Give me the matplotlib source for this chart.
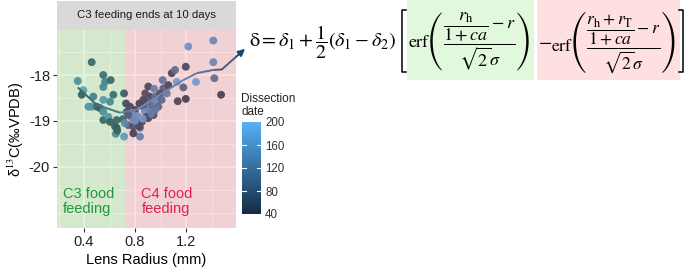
import numpy as np
import matplotlib
matplotlib.use("Agg")
import matplotlib.pyplot as plt
from matplotlib.colors import LinearSegmentedColormap, Normalize
from matplotlib.collections import LineCollection
from matplotlib.patches import Rectangle
from matplotlib.lines import Line2D

plt.rcParams['font.family'] = ['Liberation Sans', 'DejaVu Sans']
plt.rcParams['mathtext.fontset'] = 'stix'
plt.rcParams['axes.unicode_minus'] = False

# -----------------------------
# Data
# -----------------------------
radius = [0.351, 0.395, 0.382, 0.460, 0.473, 0.460, 0.500, 0.525, 0.551, 0.565,
          0.551, 0.609, 0.630, 0.604, 0.551, 0.551, 0.591, 0.604, 0.656, 0.643,
          0.656, 0.649, 0.714, 0.714, 0.729, 0.735, 0.704, 0.761, 0.747, 0.774,
          0.800, 0.818, 0.787, 0.839, 0.853, 0.834, 0.865, 0.904, 0.918, 0.904,
          0.878, 0.918, 0.892, 0.944, 0.931, 0.957, 0.970, 0.983, 0.957, 1.017,
          1.022, 0.996, 1.049, 1.009, 1.061, 1.088, 1.114, 1.127, 1.179, 1.135,
          1.198, 1.198, 1.218, 1.278, 1.414, 1.414, 1.422, 1.475, 0.774, 0.834,
          0.865, 0.904, 0.839, 0.787, 0.747, 0.661, 0.434, 0.551, 0.800, 0.880,
          0.950, 0.720, 0.930, 0.860]
d13c = [-18.13, -18.33, -18.43, -17.72, -18.47, -18.69, -18.69, -18.72, -18.00, -18.15,
        -18.26, -18.11, -18.43, -18.58, -18.80, -18.98, -18.91, -19.02, -18.98, -19.12,
        -19.15, -19.28, -19.34, -18.40, -18.62, -18.80, -18.96, -18.69, -19.09, -18.93,
        -18.76, -18.89, -19.12, -19.15, -19.02, -18.62, -18.69, -18.25, -18.47, -18.58,
        -18.80, -18.74, -18.91, -18.87, -18.65, -18.47, -18.58, -18.69, -18.76, -18.11,
        -18.29, -18.40, -18.40, -18.54, -18.22, -17.96, -17.89, -18.15, -18.27, -18.57,
        -18.52, -17.82, -17.38, -18.15, -17.25, -17.72, -18.07, -18.43, -18.82, -19.12,
        -18.54, -18.94, -19.34, -19.27, -18.87, -19.21, -18.69, -18.54, -19.00, -18.40,
        -18.30, -19.05, -18.85, -18.95]
dissection = [130, 160, 60, 70, 110, 150, 70, 60, 80, 110,
              120, 70, 80, 120, 130, 70, 140, 60, 70, 60,
              60, 130, 160, 60, 50, 60, 70, 50, 90, 150,
              50, 160, 60, 120, 50, 40, 60, 50, 50, 90,
              160, 140, 50, 40, 110, 110, 150, 100, 120, 120,
              90, 60, 130, 100, 50, 50, 110, 180, 90, 45,
              40, 50, 170, 180, 150, 150, 110, 40, 160, 50,
              50, 60, 140, 40, 80, 60, 140, 150, 150, 60,
              140, 140, 130, 170]

# smoothed trend line, arrow tip separate
trend_x = [0.351, 0.50, 0.682, 0.813, 0.996, 1.179, 1.284, 1.414, 1.48]
trend_y = [-18.27, -18.65, -18.82, -18.76, -18.43, -18.11, -17.96, -17.89, -17.88]
arrow_tip = (1.663, -17.43)

c3_end = 0.72
date_ticks = [40, 80, 120, 160, 200]

ggcmap = LinearSegmentedColormap.from_list("gg", ["#132B43", "#56B1F7"])
norm = Normalize(40, 200)

# -----------------------------
# Figure
# -----------------------------
W, H = 685, 276
fig = plt.figure(figsize=(W / 100, H / 100), dpi=100)

def fx(px):
    return px / W

def fy(py):
    return 1 - py / H

ax = fig.add_axes([fx(57), fy(228), fx(236) - fx(57), fy(30) - fy(228)])
ax.set_facecolor("#EBEBEB")
ax.set_xlim(0.188, 1.592)
ax.set_ylim(-21.33, -17.02)

ax.set_xticks([0.4, 0.8, 1.2])
ax.set_xticks([0.2, 0.6, 1.0, 1.4], minor=True)
ax.set_yticks([-20, -19, -18])
ax.set_yticks([-21, -20.5, -19.5, -18.5, -17.5], minor=True)
ax.set_axisbelow(True)
ax.grid(which="major", color="white", lw=1.1)
ax.grid(which="minor", color="white", lw=0.55)
for s in ax.spines.values():
    s.set_visible(False)
ax.tick_params(which="major", length=3, color="#333333", labelsize=10.5,
               labelcolor="#222222", pad=2)
ax.tick_params(which="minor", length=0)

ax.scatter(radius, d13c, c=dissection, cmap=ggcmap, norm=norm, s=32,
           linewidths=0, alpha=0.95, zorder=3)

# trend line with a colour gradient
pts = np.column_stack([trend_x, trend_y])
segs = np.stack([pts[:-1], pts[1:]], axis=1)
seg_vals = [70, 90, 130, 150, 140, 130, 110, 80]
lc = LineCollection(segs, cmap=ggcmap, norm=norm, lw=1.4, zorder=4, clip_on=False)
lc.set_array(np.array(seg_vals))
ax.add_collection(lc)
ax.annotate("", xy=arrow_tip, xytext=(trend_x[-1], trend_y[-1]),
            arrowprops=dict(arrowstyle="-|>", color="#174873", lw=1.4,
                            mutation_scale=10, shrinkA=0, shrinkB=0),
            annotation_clip=False, zorder=5)

# feeding regions drawn over points
ax.axvspan(0.188, c3_end, color="#94E078", alpha=0.25, lw=0, zorder=6)
ax.axvspan(c3_end, 1.592, color="#FF8890", alpha=0.25, lw=0, zorder=6)

ax.text(0.235, -20.75, "C3 food\nfeeding", color="#1E9A3C", fontsize=10.5,
        linespacing=1.15, va="center", ha="left", zorder=7)
ax.text(0.85, -20.75, "C4 food\nfeeding", color="#E0204A", fontsize=10.5,
        linespacing=1.15, va="center", ha="left", zorder=7)

ax.set_xlabel("Lens Radius (mm)", fontsize=10.5, labelpad=3)
ax.set_ylabel(r"δ$^{13}$C(‰VPDB)", fontsize=10.5, labelpad=2)

# facet strip
strip = fig.add_axes([fx(57), fy(30), fx(236) - fx(57), fy(1) - fy(30)])
strip.set_facecolor("#D9D9D9")
strip.set_xticks([])
strip.set_yticks([])
for s in strip.spines.values():
    s.set_visible(False)
strip.text(0.5, 0.5, "C3 feeding ends at 10 days", ha="center", va="center",
           fontsize=8.2, color="#1A1A1A", transform=strip.transAxes)

# colour bar
cax = fig.add_axes([fx(242), fy(214), fx(261) - fx(242), fy(122) - fy(214)])
cb = fig.colorbar(plt.cm.ScalarMappable(norm=norm, cmap=ggcmap), cax=cax,
                  ticks=date_ticks)
cb.outline.set_visible(False)
cax.tick_params(length=0, labelsize=8.3, labelcolor="#333333", pad=3)
for t in date_ticks[1:-1]:
    cax.plot([0, 0.2], [t, t], color="white", lw=0.8)
    cax.plot([0.8, 1], [t, t], color="white", lw=0.8)
fig.text(fx(241), fy(93), "Dissection\ndate", fontsize=8.5, color="#222222",
         va="top", ha="left", linespacing=1.1)

# equation with the two shaded erf terms
fig.patches.append(Rectangle((fx(407), fy(80)), fx(534) - fx(407), fy(0) - fy(80),
                             transform=fig.transFigure, color="#E2F8DC", lw=0))
fig.patches.append(Rectangle((fx(537), fy(80)), fx(680) - fx(537), fy(0) - fy(80),
                             transform=fig.transFigure, color="#FFE0E1", lw=0))
eq_y = fy(42)
fig.text(fx(249), eq_y, r"$\mathrm{δ} = \delta_1 + \dfrac{1}{2}(\delta_1 - \delta_2)$",
         fontsize=14.5, va="center", ha="left")
fig.text(fx(408), eq_y,
         r"$\mathrm{erf}\left(\dfrac{\dfrac{r_\mathrm{h}}{1+ca} - r}{\sqrt{2}\sigma}\right)$",
         fontsize=13, va="center", ha="left")
fig.text(fx(538), eq_y, r"$-$", fontsize=14, va="center", ha="left")
fig.text(fx(551), eq_y,
         r"$\mathrm{erf}\left(\dfrac{\dfrac{r_\mathrm{h}+r_\mathrm{T}}{1+ca} - r}{\sqrt{2}\sigma}\right)$",
         fontsize=12.6, va="center", ha="left")
for bx, d in [(fx(402), 1), (fx(683), -1)]:
    fig.lines.append(Line2D([bx + d * 0.006, bx, bx, bx + d * 0.006],
                            [fy(10), fy(10), fy(72), fy(72)],
                            transform=fig.transFigure, color="black", lw=1.1))

fig.savefig("out.png", dpi=100)
